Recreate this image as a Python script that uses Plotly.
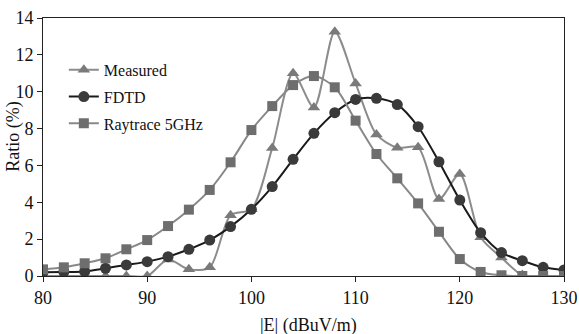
import plotly.graph_objects as go

x_vals = [80, 82, 84, 86, 88, 90, 92, 94, 96, 98, 100, 102, 104, 106, 108, 110,
          112, 114, 116, 118, 120, 122, 124, 126, 128, 130]

measured = [0.0, 0.0, 0.0, 0.0, 0.0, 0.0, 0.9, 0.36, 0.47, 3.3, 3.62, 6.95, 11.0, 9.15,
            13.26, 10.45, 7.68, 6.96, 6.98, 4.18, 5.53, 2.1, 1.0, 0.05, 0.0, 0.0]

fdtd = [0.2, 0.22, 0.25, 0.42, 0.6, 0.78, 1.05, 1.45, 1.95, 2.68, 3.62, 4.85, 6.33, 7.74,
        8.86, 9.58, 9.64, 9.3, 8.1, 6.2, 4.12, 2.35, 1.27, 0.83, 0.47, 0.33]

raytrace = [0.36, 0.47, 0.69, 0.96, 1.45, 1.95, 2.71, 3.6, 4.67, 6.17, 7.92, 9.22, 10.36,
            10.85, 10.24, 8.43, 6.62, 5.3, 3.94, 2.4, 0.92, 0.22, 0.04, 0.0, 0.0, 0.0]

x_ticks = [80, 90, 100, 110, 120, 130]
y_ticks = [0, 2, 4, 6, 8, 10, 12, 14]

FONT = "Liberation Serif"

fig = go.Figure()
fig.add_trace(go.Scatter(
    x=x_vals, y=measured, name="Measured", mode="lines+markers", legendgroup="m",
    line=dict(color="#8c8c8c", width=2, shape="spline", smoothing=0.8),
    marker=dict(symbol="triangle-up", size=11, color="#7a7a7a"),
))
fig.add_trace(go.Scatter(
    x=x_vals, y=fdtd, name="FDTD", mode="lines+markers", legendgroup="f",
    line=dict(color="#1a1a1a", width=2, shape="spline", smoothing=0.8),
    marker=dict(symbol="circle", size=11, color="#3a3a3a"),
))
fig.add_trace(go.Scatter(
    x=x_vals, y=raytrace, name="Raytrace 5GHz", mode="lines+markers", legendgroup="r",
    line=dict(color="#888888", width=2, shape="spline", smoothing=0.8),
    marker=dict(symbol="square", size=10, color="#6e6e6e"),
))

fig.update_layout(
    width=579, height=334,
    margin=dict(l=43, r=15, t=18, b=58),
    paper_bgcolor="white", plot_bgcolor="white",
    font=dict(family=FONT, size=16, color="#111111"),
    showlegend=True,
    legend=dict(x=0.04, y=0.865, xanchor="left", yanchor="top",
                bgcolor="rgba(0,0,0,0)", font=dict(family=FONT, size=16),
                itemwidth=30, tracegroupgap=3, traceorder="grouped"),
    xaxis=dict(range=[80, 130], tickvals=x_ticks, showgrid=False, zeroline=False,
               showline=True, linecolor="#222222", linewidth=1, mirror=True,
               ticks="outside", ticklen=5, tickcolor="#222222",
               tickfont=dict(family=FONT, size=18), automargin=False),
    yaxis=dict(range=[0, 14], tickvals=y_ticks, showgrid=False, zeroline=False,
               showline=True, linecolor="#222222", linewidth=1, mirror=True,
               ticks="outside", ticklen=5, tickcolor="#222222",
               tickfont=dict(family=FONT, size=18), automargin=False),
    annotations=[
        dict(text="|E| (dBuV/m)", xref="paper", yref="paper", x=0.5, y=0,
             xanchor="center", yanchor="middle", xshift=5, yshift=-49,
             showarrow=False, font=dict(family=FONT, size=18)),
        dict(text="Ratio (%)", xref="paper", yref="paper", x=0, y=0.54,
             xanchor="center", yanchor="middle", xshift=-29, textangle=-90,
             showarrow=False, font=dict(family=FONT, size=18)),
    ],
)

# remove the default page margin so the figure sits at the window's top-left corner
fig.write_html("out.html", config={"displayModeBar": False},
               post_script="document.body.style.margin='0';")
